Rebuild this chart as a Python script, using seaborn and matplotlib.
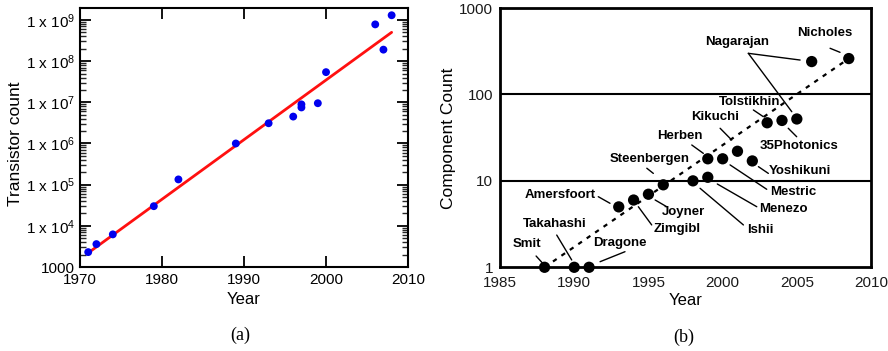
import math
import matplotlib
matplotlib.use("Agg")
import matplotlib.pyplot as plt
import seaborn as sns
from matplotlib.ticker import FixedLocator, FuncFormatter, LogLocator, NullFormatter, NullLocator

sns.set_theme(style="white")
plt.rcParams["font.family"] = ["Liberation Sans", "DejaVu Sans"]
plt.rcParams["mathtext.fontset"] = "custom"
plt.rcParams["mathtext.rm"] = "Liberation Sans"
plt.rcParams["mathtext.bf"] = "Liberation Sans:bold"
plt.rcParams["mathtext.default"] = "regular"
plt.rcParams["text.color"] = "black"
plt.rcParams["axes.labelcolor"] = "black"

# ---- (a) microprocessor transistor counts ----
cpu_years = [1971, 1972, 1974, 1979, 1982, 1989, 1993, 1996, 1997, 1997,
             1999, 2000, 2006, 2007, 2008]
cpu_counts = [2.3e3, 3.6e3, 6.2e3, 3.0e4, 1.34e5, 1.0e6, 3.1e6, 4.5e6, 8.9e6,
              7.5e6, 9.5e6, 5.4e7, 7.8e8, 1.9e8, 1.3e9]
cpu_trend_years = [1971, 2008]
cpu_trend_counts = [2.2e3, 5.0e8]
cpu_ticks = [1e3, 1e4, 1e5, 1e6, 1e7, 1e8, 1e9]

# ---- (b) photonic integrated circuit component counts ----
pic_names = ["Smit", "Takahashi", "Dragone", "Amersfoort", "Zimgibl", "Joyner",
             "Steenbergen", "Ishii", "Menezo", "Herben", "Mestric", "Kikuchi",
             "Yoshikuni", "Tolstikhin", "35Photonics", "Nagarajan", "Nagarajan",
             "Nicholes"]
pic_years = [1988, 1990, 1991, 1993, 1994, 1995, 1996, 1998, 1999, 1999, 2000,
             2001, 2002, 2003, 2004, 2005, 2006, 2008.5]
pic_counts = [1, 1, 1, 5, 6, 7, 9, 10, 11, 18, 18, 22, 17, 47, 50, 52, 240, 260]
pic_trend_years = [1988, 2008.5]
pic_trend_counts = [1, 260]
pic_ticks = [1, 10, 100, 1000]
year_ticks_b = [1985, 1990, 1995, 2000, 2005, 2010]

# label placement (data coordinates): text centre, then leader segments
label_layout = {
    "Smit":        ((1986.80, 1.85), [((1987.43, 1.35), (1987.88, 1.11))]),
    "Takahashi":   ((1988.71, 3.17), [((1988.82, 2.36), (1989.83, 1.215))]),
    "Dragone":     ((1993.09, 1.90), [((1993.42, 1.515), (1991.74, 1.16))]),
    "Amersfoort":  ((1989.04, 6.86), [((1991.62, 6.56), (1992.41, 5.50))]),
    "Zimgibl":     ((1996.91, 2.77), [((1995.22, 3.09), (1994.32, 5.02))]),
    "Joyner":      ((1997.35, 4.33), [((1996.23, 5.02), (1995.45, 6.01))]),
    "Steenbergen": ((1995.11, 17.9), [((1994.89, 14.0), (1995.33, 12.2))]),
    "Ishii":       ((2002.52, 2.70), [((2001.40, 3.09), (1998.48, 8.20))]),
    "Menezo":      ((2004.09, 4.69), [((2002.30, 5.02), (1999.64, 9.20))]),
    "Mestric":     ((2004.77, 7.49), [((2002.97, 7.99), (2000.50, 15.3))]),
    "Yoshikuni":   ((2005.22, 13.1), [((2003.08, 12.2), (2002.41, 14.6))]),
    "Herben":      ((1997.13, 33.0), [((1997.92, 26.0), (1998.70, 20.8))]),
    "Kikuchi":     ((1999.49, 54.4), [((1999.83, 40.6), (2000.61, 29.7))]),
    "Tolstikhin":  ((2001.80, 82.4), [((2002.07, 66.1), (2002.74, 55.3))]),
    "35Photonics": ((2005.12, 25.5), [((2004.99, 32.4), (2004.42, 40.6))]),
    "Nagarajan":   ((2000.95, 408.0), [((2001.73, 299.0), (2005.22, 250.0)),
                                       ((2001.73, 299.0), (2004.66, 63.1))]),
    "Nicholes":    ((2006.90, 510.0), [((2007.24, 342.0), (2007.91, 307.0))]),
}

fig = plt.figure(figsize=(8.88, 3.51), dpi=100)
fig.patch.set_facecolor("white")

# ================= panel (a) =================
axA = fig.add_axes([0.0901, 0.2393, 0.3694, 0.7379])
axA.set_yscale("log")
sns.lineplot(x=cpu_trend_years, y=cpu_trend_counts, ax=axA, color="#ff1010",
             linewidth=2.0, zorder=2)
sns.scatterplot(x=cpu_years, y=cpu_counts, ax=axA, color="#0000ee", s=32,
                edgecolor="none", zorder=3)
axA.set_xlim(1970, 2010)
axA.set_ylim(1000, 1.95e9)
axA.set_xticks([1970, 1980, 1990, 2000, 2010])
axA.yaxis.set_major_locator(FixedLocator(cpu_ticks))
axA.yaxis.set_minor_locator(LogLocator(base=10, subs=range(2, 10), numticks=20))
axA.yaxis.set_minor_formatter(NullFormatter())


def sci_label(v, _pos):
    exp = int(round(math.log10(v)))
    if exp == 3:
        return "1000"
    return "1 x 10$^{%d}$" % exp


axA.yaxis.set_major_formatter(FuncFormatter(sci_label))
axA.tick_params(axis="both", which="major", direction="in", length=8, width=1.3,
                labelsize=11, top=True, right=True, bottom=True, left=True,
                colors="black")
axA.tick_params(axis="x", which="major", pad=4.5)
axA.tick_params(axis="y", which="major", pad=3.5)
axA.tick_params(axis="y", which="minor", direction="in", length=4, width=1.0,
                left=True, right=True)
for s in axA.spines.values():
    s.set_linewidth(1.5)
    s.set_color("black")
axA.set_xlabel("Year", fontsize=12)
axA.set_ylabel("Transistor count", fontsize=12.5)
axA.xaxis.set_label_coords(0.5, -0.127)
axA.xaxis.label.set_va("center")
axA.yaxis.set_label_coords(-0.198, 0.477)
axA.yaxis.label.set_va("center")

# ================= panel (b) =================
axB = fig.add_axes([0.5631, 0.2385, 0.4178, 0.7387])
axB.set_yscale("log")
axB.axhline(10, color="black", linewidth=1.5, zorder=1)
axB.axhline(100, color="black", linewidth=1.5, zorder=1)
sns.lineplot(x=pic_trend_years, y=pic_trend_counts, ax=axB, color="black",
             linewidth=1.6, linestyle=(0, (2.0, 2.6)), zorder=2)
sns.scatterplot(x=pic_years, y=pic_counts, ax=axB, color="black", s=66,
                edgecolor="none", zorder=4, clip_on=False)
axB.set_xlim(1985, 2010)
axB.set_ylim(1, 1000)
axB.xaxis.set_major_locator(FixedLocator(year_ticks_b))
axB.yaxis.set_major_locator(FixedLocator(pic_ticks))
axB.yaxis.set_minor_locator(NullLocator())
axB.yaxis.set_major_formatter(FuncFormatter(lambda v, p: "%d" % v))
axB.tick_params(axis="both", which="major", direction="in", length=10, width=1.6,
                labelsize=11, top=False, right=False, colors="black",
                labelcolor="#1a1a1a")
axB.tick_params(axis="x", which="major", pad=6)
axB.tick_params(axis="y", which="major", pad=5)
for s in axB.spines.values():
    s.set_linewidth(2.0)
    s.set_color("black")
axB.set_xlabel("Year", fontsize=12)
axB.set_ylabel("Component Count", fontsize=12.5)
axB.xaxis.set_label_coords(0.499, -0.130)
axB.xaxis.label.set_va("center")
axB.yaxis.set_label_coords(-0.140, 0.499)
axB.yaxis.label.set_va("center")

for name, (txt_xy, leaders) in label_layout.items():
    axB.text(txt_xy[0], txt_xy[1], name, ha="center", va="center",
             fontsize=9.5, fontweight="bold", color="black", zorder=5)
    for (x0, y0), (x1, y1) in leaders:
        axB.plot([x0, x1], [y0, y1], color="black", linewidth=1.0, zorder=3)

# panel captions
fig.text(240 / 888, 1 - 335 / 351, "(a)", ha="center", va="center",
         fontsize=13, family="Liberation Serif")
fig.text(684 / 888, 1 - 337 / 351, "(b)", ha="center", va="center",
         fontsize=13, family="Liberation Serif")

fig.savefig("out.png", dpi=100, facecolor="white")
